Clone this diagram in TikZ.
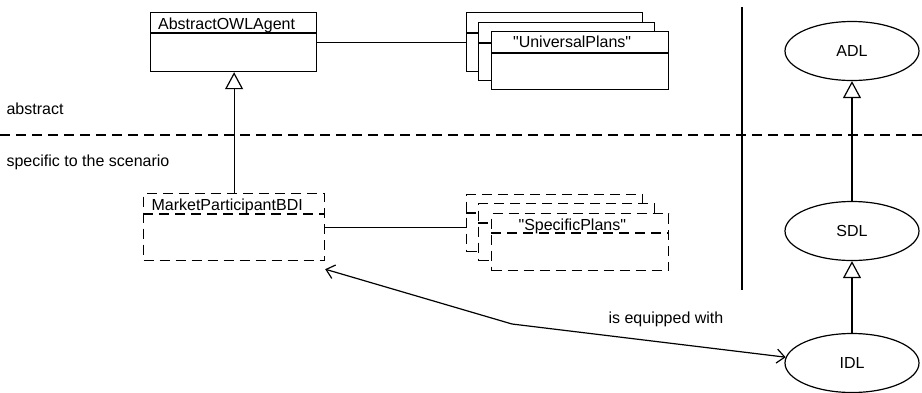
\documentclass[tikz,border=0pt]{standalone}
\usepackage{fontspec}
\setmainfont{Liberation Sans}
\usetikzlibrary{arrows.meta,shapes.geometric}

\tikzset{
  lbl/.style={inner sep=0pt, anchor=base west, font=\fontsize{16}{19}\selectfont},
  classbox/.style={draw, fill=white, rectangle, inner sep=0pt, anchor=north west},
  dashbox/.style={classbox, dash pattern=on 10pt off 6pt},
  usecase/.style={draw, ellipse, inner sep=0pt, minimum width=134pt, minimum height=59pt,
                  font=\fontsize{16}{19}\selectfont},
  inherit/.style={-{Triangle[open, length=17pt 0 0, width=18pt 0 0]}},
  assoc/.style={{Straight Barb[length=8pt, width=14pt]}-{Straight Barb[length=8pt, width=14pt]}},
  sep/.style={dash pattern=on 10pt off 6pt}
}

\begin{document}
\begin{tikzpicture}[x=1pt, y=-1pt, line width=1.2pt]
  \useasboundingbox (0,0) rectangle (922,392);

  % layer separator and language column divider
  \coordinate (sepL) at (0,135);
  \coordinate (sepR) at (922,135);
  \draw[sep] (sepL) -- (sepR);
  \coordinate (divT) at (742,7);
  \coordinate (divB) at (742,290);
  \draw (divT) -- (divB);

  \node[lbl] (labAbs) at (6,114) {abstract};
  \node[lbl] (labSpec) at (6,166) {specific to the scenario};

  % abstract agent class
  \node[classbox, minimum width=166pt, minimum height=59pt] (aoa) at (150,12) {};
  \draw (150,33) -- (316,33);
  \node[lbl] (aoaT) at (157.5,29) {AbstractOWLAgent};

  % stack of universal plans
  \node[classbox, minimum width=176pt, minimum height=59pt] (up1) at (466,12) {};
  \draw (466,33) -- (642,33);
  \node[classbox, minimum width=176pt, minimum height=58pt] (up2) at (478,22) {};
  \draw (478,43) -- (654,43);
  \node[classbox, minimum width=177pt, minimum height=58pt] (up3) at (491,31) {};
  \draw (491,53) -- (668,53);
  \node[lbl] (upT) at (512.5,47) {\textquotedbl UniversalPlans\textquotedbl};

  \draw (aoa.east) -- (up1.west |- aoa.east);

  % scenario-specific agent class
  \node[dashbox, minimum width=181pt, minimum height=67pt] (mpb) at (143,193) {};
  \draw[sep] (143,214) -- (324,214);
  \node[lbl] (mpbT) at (151,210) {MarketParticipantBDI};

  % stack of specific plans
  \node[dashbox, minimum width=176pt, minimum height=57pt] (sp1) at (466,194) {};
  \draw[sep] (466,213) -- (642,213);
  \node[dashbox, minimum width=176pt, minimum height=57pt] (sp2) at (478,203) {};
  \draw[sep] (478,223) -- (654,223);
  \node[dashbox, minimum width=177pt, minimum height=57pt] (sp3) at (491,213) {};
  \draw[sep] (491,233) -- (668,233);
  \node[lbl] (spT) at (518,230) {\textquotedbl SpecificPlans\textquotedbl};

  \draw (mpb.east) -- (sp1.west |- mpb.east);
  \draw[inherit] (mpb.north) -- (mpb.north |- aoa.south);

  % description languages
  \node[usecase] (adl) at (852,51) {ADL};
  \node[usecase] (sdl) at (852,231) {SDL};
  \node[usecase] (idl) at (852,363) {IDL};
  \draw[inherit] (sdl) -- (adl);
  \draw[inherit] (idl) -- (sdl);

  % equipment association
  \coordinate (mpbTip) at ([yshift=-8pt]mpb.south east);
  \coordinate (bend) at (512,324);
  \draw[assoc] (mpbTip) -- (bend) -- (idl.175);
  \node[lbl] (eqT) at (608,323) {is equipped with};
\end{tikzpicture}
\end{document}
